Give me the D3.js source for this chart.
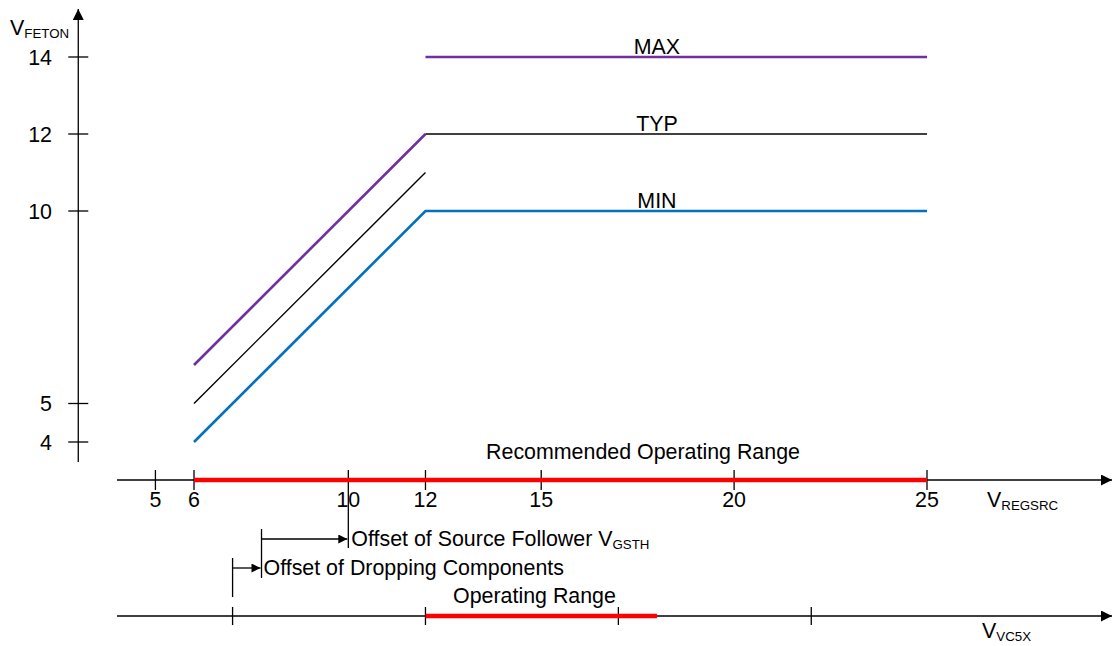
<!DOCTYPE html>
<html>
<head>
<meta charset="utf-8">
<script src="https://cdn.jsdelivr.net/npm/d3@7"></script>
<style>
  body { margin: 0; background: #fff; }
  svg { font-family: "Liberation Sans", Arial, sans-serif; }
  text { fill: #000; }
</style>
</head>
<body>
<svg id="chart" width="1112" height="646"></svg>
<script>
// ---- data ----
var yTicks = [4, 5, 10, 12, 14]
var xTicks = [5, 6, 10, 12, 15, 20, 25]
var vc5xTicks = [7, 12, 17, 22]

// each curve is drawn as separate segments [x, y]
var maxSegs = [[[6, 6], [12, 12]], [[12, 14], [25, 14]]]
var typSegs = [[[6, 5], [12, 11]], [[12, 12], [25, 12]]]
var minSegs = [[[6, 4], [12, 10], [25, 10]]]

var curveLabels = [
  {name: 'MAX', x: 18, y: 14},
  {name: 'TYP', x: 18, y: 12},
  {name: 'MIN', x: 18, y: 10}
]

var recRange = [6, 25]
var opRange = [12, 18]
var srcOffset = [7.75, 10]   // Offset of Source Follower VGSTH
var dropOffset = [7, 7.75]   // Offset of Dropping Components

var FS = 21.4
var SUB = 13.3

// ---- scales ----
var svg = d3.select('#chart')
var x = d3.scaleLinear().domain([6, 25]).range([194, 927])
var y = d3.scaleLinear().domain([4, 14]).range([442, 57])

var axisTopY = 480
var axisBotY = 616
var axisX = x(3)

// arrowhead markers
var defs = svg.append('defs')
function marker (id, w, h) {
  defs.append('marker')
    .attr('id', id)
    .attr('viewBox', '0 0 10 10')
    .attr('refX', 10).attr('refY', 5)
    .attr('markerWidth', w).attr('markerHeight', h)
    .attr('markerUnits', 'userSpaceOnUse')
    .attr('orient', 'auto')
    .append('path').attr('d', 'M0,0L10,5L0,10Z').attr('fill', '#000')
}
marker('arr', 15, 11)
marker('sarr', 13, 9)

function line (x1, y1, x2, y2, w, c) {
  return svg.append('line')
    .attr('x1', x1).attr('y1', y1).attr('x2', x2).attr('y2', y2)
    .attr('stroke', c || '#000').attr('stroke-width', w || 1.3)
}

function subText (tx, ty, main, sub, anchor) {
  var t = svg.append('text').attr('x', tx).attr('y', ty)
    .attr('font-size', FS).attr('text-anchor', anchor || 'start')
  t.append('tspan').text(main)
  t.append('tspan').attr('font-size', SUB).attr('dy', 3).text(sub)
  return t
}

/*
    --------------------------------------
    Y axis
*/
line(axisX, 462, axisX, 9).attr('marker-end', 'url(#arr)')
svg.selectAll('.ytick').data(yTicks).enter().append('line')
  .attr('x1', axisX - 10).attr('x2', axisX + 10)
  .attr('y1', d => y(d)).attr('y2', d => y(d))
  .attr('stroke', '#000').attr('stroke-width', 1.3)
svg.selectAll('.ylab').data(yTicks).enter().append('text')
  .attr('x', 52).attr('y', d => y(d) + 7.5)
  .attr('text-anchor', 'end').attr('font-size', FS)
  .text(d => d)
subText(10, 35, 'V', 'FETON')

/*
    --------------------------------------
    VREGSRC axis
*/
line(117, axisTopY, 1112, axisTopY).attr('marker-end', 'url(#arr)')
svg.selectAll('.xtick').data(xTicks).enter().append('line')
  .attr('x1', d => x(d)).attr('x2', d => x(d))
  .attr('y1', axisTopY - 10).attr('y2', d => d === 10 ? 548 : axisTopY + 10)
  .attr('stroke', '#000').attr('stroke-width', 1.3)
svg.selectAll('.xlab').data(xTicks).enter().append('text')
  .attr('x', d => x(d)).attr('y', 507)
  .attr('text-anchor', 'middle').attr('font-size', FS)
  .text(d => d)
subText(987, 507, 'V', 'REGSRC')

line(x(recRange[0]), axisTopY, x(recRange[1]), axisTopY, 4.5, '#ff0000')
svg.append('text').attr('x', 643).attr('y', 459)
  .attr('text-anchor', 'middle').attr('font-size', FS)
  .text('Recommended Operating Range')

/*
    --------------------------------------
    Curves
*/
var path = d3.line().x(d => x(d[0])).y(d => y(d[1]))
function drawSegs (segs, color, w) {
  svg.selectAll(null).data(segs).enter().append('path')
    .attr('d', path).attr('fill', 'none')
    .attr('stroke', color).attr('stroke-width', w)
}
drawSegs(maxSegs.slice(0, 1), '#7030a0', 2.6)
drawSegs(typSegs, '#000', 1.4)
drawSegs(maxSegs.slice(1), '#7030a0', 2.6)
drawSegs(minSegs, '#0070c0', 2.6)

svg.selectAll('.clab').data(curveLabels).enter().append('text')
  .attr('x', d => x(d.x)).attr('y', d => y(d.y) - 3)
  .attr('text-anchor', 'middle').attr('font-size', FS)
  .text(d => d.name)

/*
    --------------------------------------
    Offset annotations
*/
line(x(srcOffset[0]), 529, x(srcOffset[0]), 578)
line(x(srcOffset[0]), 539, x(srcOffset[1]) - 1, 539).attr('marker-end', 'url(#sarr)')
subText(x(srcOffset[1]) + 3, 546, 'Offset of Source Follower V', 'GSTH')

line(x(dropOffset[0]), 558, x(dropOffset[0]), 597)
line(x(dropOffset[0]), 568, x(dropOffset[1]) - 1, 568).attr('marker-end', 'url(#sarr)')
svg.append('text').attr('x', x(dropOffset[1]) + 2).attr('y', 575)
  .attr('font-size', FS).text('Offset of Dropping Components')

/*
    --------------------------------------
    VC5X axis
*/
line(117, axisBotY, 1112, axisBotY).attr('marker-end', 'url(#arr)')
svg.selectAll('.btick').data(vc5xTicks).enter().append('line')
  .attr('x1', d => x(d)).attr('x2', d => x(d))
  .attr('y1', axisBotY - 9).attr('y2', axisBotY + 9)
  .attr('stroke', '#000').attr('stroke-width', 1.3)
line(x(opRange[0]), axisBotY, x(opRange[1]), axisBotY, 4.5, '#ff0000')
svg.append('text').attr('x', 453).attr('y', 603)
  .attr('font-size', FS).text('Operating Range')
subText(982, 638, 'V', 'VC5X')
</script>
</body>
</html>
